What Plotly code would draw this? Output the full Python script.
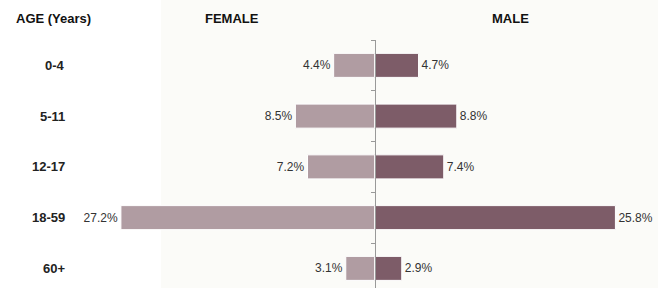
import plotly.graph_objects as go

age_groups = ["0-4", "5-11", "12-17", "18-59", "60+"]
female_pct = [4.4, 8.5, 7.2, 27.2, 3.1]
male_pct = [4.7, 8.8, 7.4, 25.8, 2.9]

W, H = 658, 288
axis_px = 374.7
px_per = 9.33
top = 40

female_color = "#b09ca2"
male_color = "#7d5c68"
font_main = "Liberation Sans, Arial, sans-serif"

fig = go.Figure()
fig.add_trace(go.Bar(
    y=age_groups, x=[-v for v in female_pct], orientation="h", name="FEMALE",
    marker=dict(color=female_color, line=dict(color="#ffffff", width=1)),
    text=[f"{v}%" for v in female_pct], textposition="outside",
    textfont=dict(size=12, color="#333333", family=font_main),
    cliponaxis=False, hoverinfo="skip",
))
fig.add_trace(go.Bar(
    y=age_groups, x=male_pct, orientation="h", name="MALE",
    marker=dict(color=male_color, line=dict(color="#ffffff", width=1)),
    text=[f"{v}%" for v in male_pct], textposition="outside",
    textfont=dict(size=12, color="#333333", family=font_main),
    cliponaxis=False, hoverinfo="skip",
))

plot_h = H - top
band = 50.75
n_visible = plot_h / band

fig.update_layout(
    width=W, height=H,
    margin=dict(l=0, r=0, t=top, b=0),
    barmode="relative", bargap=0.527,
    showlegend=False,
    paper_bgcolor="#ffffff", plot_bgcolor="rgba(0,0,0,0)",
    font=dict(family=font_main),
    xaxis=dict(range=[-axis_px / px_per, (W - axis_px) / px_per],
               visible=False, fixedrange=True),
    yaxis=dict(type="category", categoryorder="array", categoryarray=age_groups,
               range=[-0.5 + n_visible, -0.5],
               anchor="free", position=axis_px / W,
               showline=True, linecolor="#999999", linewidth=1,
               ticks="outside", tickson="boundaries", ticklen=4,
               tickcolor="#999999", showticklabels=False, showgrid=False,
               zeroline=False, fixedrange=True),
    shapes=[dict(type="rect", xref="paper", yref="paper",
                 x0=161 / W, x1=1, y0=0, y1=H / plot_h,
                 fillcolor="#fbfbf8", line=dict(width=0), layer="below")],
)

def py(pix):
    return (H - pix) / plot_h

annots = [
    dict(text="<b>AGE (Years)</b>", x=14 / W, xanchor="left"),
    dict(text="<b>FEMALE</b>", x=232 / W, xanchor="center"),
    dict(text="<b>MALE</b>", x=511 / W, xanchor="center"),
]
for a in annots:
    fig.add_annotation(xref="paper", yref="paper", y=py(18), yanchor="middle",
                       showarrow=False, font=dict(size=13, color="#111111", family=font_main), **a)

for g in age_groups:
    fig.add_annotation(xref="paper", yref="y", x=67 / W, y=g, xanchor="right",
                       yanchor="middle", showarrow=False, text=f"<b>{g}</b>",
                       font=dict(size=13, color="#222222", family=font_main))

fig.write_html("out.html", config={"displayModeBar": False},
               post_script="document.body.style.margin='0';document.body.style.overflow='hidden';")
